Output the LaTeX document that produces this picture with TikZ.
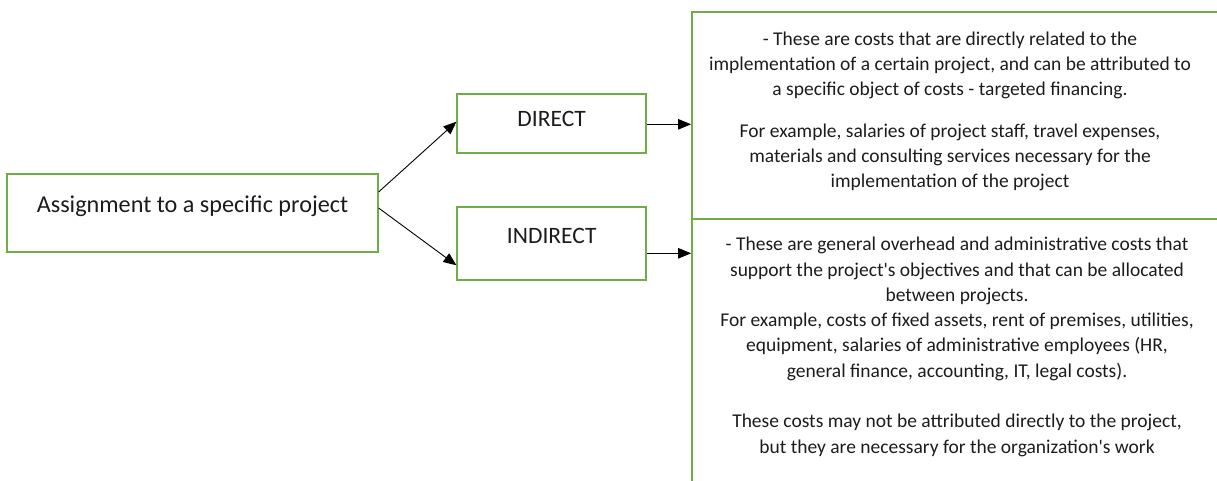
\documentclass[tikz,border=0pt]{standalone}
\usepackage{fontspec}
\setmainfont{Carlito}[Ligatures=TeXOff]
\usetikzlibrary{arrows.meta,calc}
\definecolor{boxgreen}{RGB}{112,173,71}
\definecolor{ink}{RGB}{28,28,28}
\begin{document}
\begin{tikzpicture}[x=1pt,y=-1pt,
  box/.style={draw=boxgreen,line width=1.8pt,rectangle,inner sep=0pt,text=ink},
  lbl/.style={font=\fontsize{23.5}{28}\selectfont},
  para/.style={align=center,text=ink,inner sep=0pt,anchor=north},
  link/.style={draw=black,line width=0.9pt,-{Triangle[length=13pt,width=10.5pt]}}]
\useasboundingbox (0,0) rectangle (1217,481);
\clip (0,0) rectangle (1217,481);

% left-hand category boxes
\node[box,font=\fontsize{24.2}{28}\selectfont,minimum width=370.4pt,minimum height=78pt,text height=6pt,text depth=6.5pt]
  (assign) at (192.5,213) {Assignment to a specific project};
\node[box,lbl,minimum width=188.7pt,minimum height=59.3pt,text height=13pt,text depth=7.6pt]
  (direct) at (551.7,123.7) {DIRECT};
\node[box,lbl,minimum width=188.7pt,minimum height=73.3pt,text height=15pt,text depth=15pt]
  (indirect) at (551.7,243.3) {INDIRECT};

% description panels (running off the right and bottom edge)
\node[box,minimum width=558pt,minimum height=207pt] (dinfo) at (971,115.5) {};
\node[box,minimum width=558pt,minimum height=281pt] (iinfo) at (971,359.5) {};

\node[para,font=\fontsize{19.5}{24.9}\selectfont] (dtext) at (950,32) {- These are costs that are directly related to the\\
implementation of a certain project, and can be attributed to\\
a specific object of costs - targeted financing.\\[17pt]
For example, salaries of project staff, travel expenses,\\
materials and consulting services necessary for the\\
implementation of the project};

\node[para,font=\fontsize{19.5}{25.3}\selectfont] (itext) at (957,237) {- These are general overhead and administrative costs that\\
support the project's objectives and that can be allocated\\
between projects.\\
For example, costs of fixed assets, rent of premises, utilities,\\
equipment, salaries of administrative employees (HR,\\
general finance, accounting, IT, legal costs).\\[25.3pt]
These costs may not be attributed directly to the project,\\
but they are necessary for the organization's work};

% connectors
\coordinate (da) at ($(direct.east)+(0,0.6)$);
\coordinate (ia) at ($(indirect.east)+(0,10)$);
\draw[link] ($(assign.east)+(0,-21)$) -- ($(direct.west)+(0,-2)$);
\draw[link] ($(assign.east)+(0,-5)$) -- ($(indirect.west)+(0,22)$);
\draw[link] (da) -- (da -| dinfo.west);
\draw[link] (ia) -- (ia -| iinfo.west);
\end{tikzpicture}
\end{document}
